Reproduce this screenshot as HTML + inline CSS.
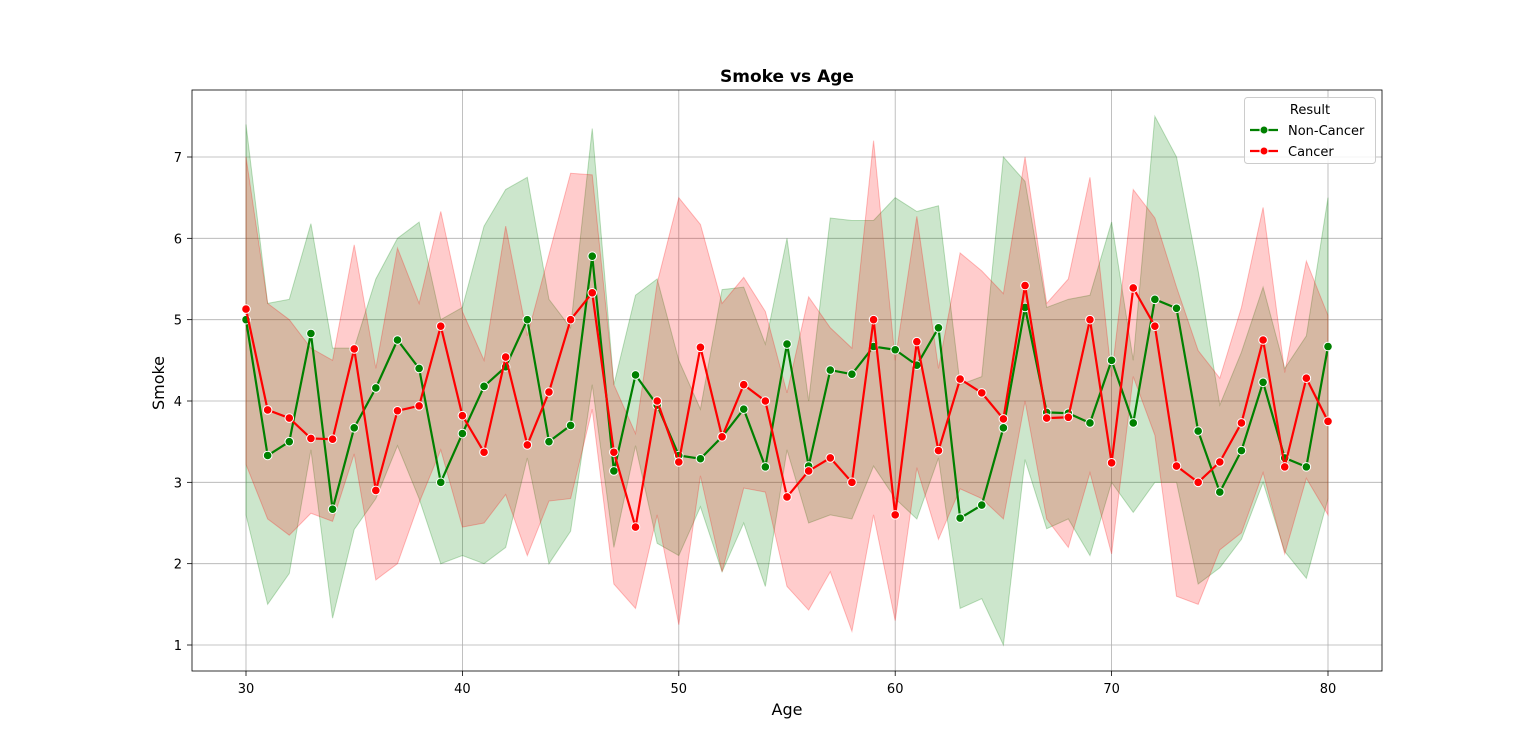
<!DOCTYPE html>
<html><head><meta charset="utf-8"><style>
html,body{margin:0;padding:0;background:#fff;overflow:hidden;width:1536px;height:754px}
svg{display:block}
svg text{font-family:"DejaVu Sans","Liberation Sans",sans-serif}
</style></head><body>
<svg id="chart" width="1536" height="754" xmlns="http://www.w3.org/2000/svg"></svg>
<script>
const ages=[30,31,32,33,34,35,36,37,38,39,40,41,42,43,44,45,46,47,48,49,50,51,52,53,54,55,56,57,58,59,60,61,62,63,64,65,66,67,68,69,70,71,72,73,74,75,76,77,78,79,80];
const nonCancerMean=[5.0,3.33,3.5,4.83,2.67,3.67,4.16,4.75,4.4,3.0,3.6,4.18,4.42,5.0,3.5,3.7,5.78,3.14,4.32,3.95,3.33,3.29,3.56,3.9,3.19,4.7,3.2,4.38,4.33,4.67,4.63,4.44,4.9,2.56,2.72,3.67,5.15,3.86,3.85,3.73,4.5,3.73,5.25,5.14,3.63,2.88,3.39,4.23,3.3,3.19,4.67];
const nonCancerUpper=[7.4,5.2,5.25,6.18,4.65,4.65,5.5,6.0,6.2,5.0,5.15,6.15,6.6,6.75,5.25,4.9,7.35,4.2,5.3,5.5,4.5,3.9,5.37,5.4,4.7,6.0,4.0,6.25,6.22,6.22,6.5,6.33,6.4,4.2,4.3,7.0,6.7,5.15,5.25,5.3,6.2,4.5,7.5,7.0,5.6,3.95,4.6,5.4,4.4,4.8,6.5];
const nonCancerLower=[2.6,1.5,1.88,3.4,1.33,2.42,2.8,3.45,2.8,2.0,2.1,2.0,2.2,3.3,2.0,2.4,4.2,2.2,3.45,2.25,2.1,2.7,1.9,2.5,1.72,3.4,2.5,2.6,2.55,3.2,2.8,2.55,3.3,1.45,1.57,1.0,3.28,2.43,2.55,2.1,3.0,2.63,3.0,3.0,1.75,1.95,2.3,3.0,2.15,1.82,2.8];
const cancerMean=[5.13,3.89,3.79,3.54,3.53,4.64,2.9,3.88,3.94,4.92,3.82,3.37,4.54,3.46,4.11,5.0,5.33,3.37,2.45,4.0,3.25,4.66,3.56,4.2,4.0,2.82,3.14,3.3,3.0,5.0,2.6,4.73,3.39,4.27,4.1,3.78,5.42,3.79,3.8,5.0,3.24,5.39,4.92,3.2,3.0,3.25,3.73,4.75,3.19,4.28,3.75];
const cancerUpper=[7.0,5.2,5.0,4.65,4.5,5.92,4.4,5.88,5.2,6.33,5.1,4.5,6.15,4.8,5.8,6.8,6.78,4.2,3.6,5.45,6.5,6.17,5.2,5.52,5.1,4.1,5.28,4.9,4.65,7.2,4.5,6.27,4.4,5.82,5.6,5.32,7.0,5.2,5.5,6.75,4.3,6.6,6.25,5.4,4.62,4.28,5.15,6.38,4.35,5.72,5.05];
const cancerLower=[3.22,2.55,2.35,2.62,2.52,3.35,1.8,2.0,2.75,3.4,2.45,2.5,2.85,2.1,2.77,2.8,3.9,1.75,1.45,2.6,1.25,3.08,1.9,2.93,2.88,1.72,1.43,1.9,1.17,2.6,1.3,3.18,2.3,2.92,2.8,2.55,4.0,2.55,2.2,3.12,2.12,4.3,3.58,1.6,1.5,2.17,2.38,3.12,2.12,3.05,2.6];
const xTicks=[30,40,50,60,70,80];
const yTicks=[1,2,3,4,5,6,7];

const NS="http://www.w3.org/2000/svg";
const svg=document.getElementById('chart');
const X=v=>246+(v-30)*(1328-246)/50;
const Y=v=>645-(v-1)*(645-157)/6;
function mk(tag,attrs,parent){const e=document.createElementNS(NS,tag);for(const k in attrs)e.setAttribute(k,attrs[k]);(parent||svg).appendChild(e);return e;}
const L=192,R=1382,T=90,B=671;
xTicks.forEach(t=>{
  const g=mk('line',{x1:X(t),x2:X(t),y1:T,y2:B,stroke:'#b0b0b0','stroke-width':0.8});
  
  
  mk('line',{x1:X(t),x2:X(t),y1:B,y2:B+5,stroke:'#000','stroke-width':0.8});
  const tx=mk('text',{x:X(t),y:B+22,'text-anchor':'middle','font-size':13});tx.textContent=t;
  
  
});
yTicks.forEach(t=>{
  const g=mk('line',{x1:L,x2:R,y1:Y(t),y2:Y(t),stroke:'#b0b0b0','stroke-width':0.8});
  
  
  mk('line',{x1:L-5,x2:L,y1:Y(t),y2:Y(t),stroke:'#000','stroke-width':0.8});
  const tx=mk('text',{x:L-10,y:Y(t)+5,'text-anchor':'end','font-size':13});tx.textContent=t;
  
  
});
function band(up,lo,fill,stroke,name){
  let d='M'+ages.map((a,i)=>X(a)+','+Y(up[i])).join('L');
  for(let i=ages.length-1;i>=0;i--)d+='L'+X(ages[i])+','+Y(lo[i]);
  const p=mk('path',{d:d+'Z',fill:fill,stroke:stroke,'stroke-width':1});
  
  
}
function line(m,col,name){
  const p=mk('polyline',{points:ages.map((a,i)=>X(a)+','+Y(m[i])).join(' '),fill:'none',stroke:col,'stroke-width':2.2});
  
  
  ages.forEach((a,i)=>{const c=mk('circle',{cx:X(a),cy:Y(m[i]),r:4.3,fill:col,stroke:'#fff','stroke-width':1});
    
    });
}
band(nonCancerUpper,nonCancerLower,'rgba(0,128,0,0.2)','rgba(0,128,0,0.25)','non-cancer-ci-band');
band(cancerUpper,cancerLower,'rgba(255,0,0,0.2)','rgba(255,0,0,0.25)','cancer-ci-band');
line(nonCancerMean,'#008000','non-cancer');
line(cancerMean,'#ff0000','cancer');
const fr=mk('rect',{x:L,y:T,width:R-L,height:B-T,fill:'none',stroke:'#000','stroke-width':0.8});


</script>
<svg style="position:absolute;left:0;top:0" width="1536" height="754" xmlns="http://www.w3.org/2000/svg">
<text x="787" y="82" text-anchor="middle" font-size="17" font-weight="bold">Smoke vs Age</text>
<text x="787" y="715" text-anchor="middle" font-size="16">Age</text>
<text x="164" y="383" text-anchor="middle" font-size="16" transform="rotate(-90 164 383)">Smoke</text>
<g>
<rect x="1244.5" y="97.5" width="131" height="66" rx="3" fill="#fff" fill-opacity="0.85" stroke="#ccc"/>
<text x="1310" y="114" text-anchor="middle" font-size="13">Result</text>
<g>
<line x1="1250" x2="1278" y1="130" y2="130" stroke="#008000" stroke-width="2.2"/><circle cx="1264" cy="130" r="4" fill="#008000" stroke="#fff"/>
<text x="1288" y="135" font-size="13">Non-Cancer</text></g>
<g>
<line x1="1250" x2="1278" y1="151" y2="151" stroke="#ff0000" stroke-width="2.2"/><circle cx="1264" cy="151" r="4" fill="#ff0000" stroke="#fff"/>
<text x="1288" y="156" font-size="13">Cancer</text></g>
</g>
</svg>
</body></html>
